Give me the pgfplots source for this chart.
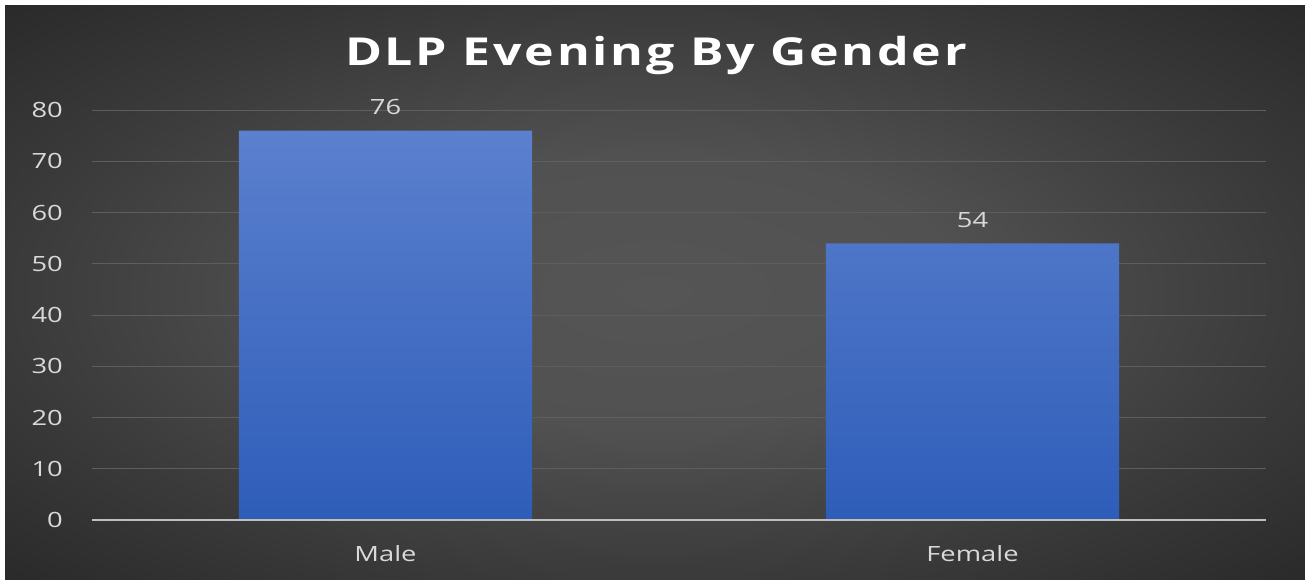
\documentclass[border=0pt]{standalone}
\usepackage{pgfplots}
\pgfplotsset{compat=1.18}
\usepackage{fontspec}
\setmainfont{Open Sans}[FakeStretch=1.3]
\newfontfamily\titlefont{Open Sans}[FakeStretch=1.3,LetterSpace=7]
\definecolor{bgin}{HTML}{555555}
\definecolor{bgmid}{HTML}{3A3A3A}
\definecolor{bgout}{HTML}{262626}
\definecolor{gridc}{HTML}{5E5E5E}
\definecolor{txt}{HTML}{D9D9D9}
\definecolor{axc}{HTML}{BFBFBF}
\definecolor{bartop}{HTML}{5B80CE}
\definecolor{barbot}{HTML}{2E5DB9}
\pgfdeclareradialshading{bgshade}{\pgfpoint{0bp}{0bp}}{color(0bp)=(bgin); color(12bp)=(bgin!85!bgmid); color(25bp)=(bgmid); color(38bp)=(bgout); color(50bp)=(bgout)}
\begin{document}
\begin{tikzpicture}[x=1pt,y=1pt]
\fill[white] (0,0) rectangle (1305,579);
\shade[shading=bgshade] (5,0) rectangle (1305,573);
\node[font=\titlefont\bfseries\fontsize{38.5}{42}\selectfont, text=white, anchor=center] at (656,523) {DLP Evening By Gender};
\begin{axis}[
  at={(92pt,59pt)}, anchor=south west,
  scale only axis, width=1174pt, height=410pt,
  xmin=-0.5, xmax=1.5, ymin=0, ymax=80,
  ytick={0,10,...,80}, xtick={0,1}, xticklabels={Male,Female},
  /pgf/number format/assume math mode=true,
  axis line style={draw=none}, tick style={draw=none},
  ymajorgrids, major grid style={gridc, line width=1pt},
  yticklabel style={font=\fontsize{21}{24}\selectfont, text=txt, anchor=east, inner sep=0pt, xshift=-29pt},
  xticklabel style={font=\fontsize{21}{24}\selectfont, text=txt, anchor=north, inner sep=0pt, yshift=-21pt},
  ybar, bar width=293pt,
  nodes near coords,
  every node near coord/.append style={font=\fontsize{21}{24}\selectfont, text=txt, yshift=12pt},
  clip=false,
]
\addplot[draw=none, top color=bartop, bottom color=barbot] coordinates {(0,76) (1,54)};
\draw[color=axc, line width=2pt] (axis cs:-0.5,0) -- (axis cs:1.5,0);
\end{axis}
\end{tikzpicture}
\end{document}
